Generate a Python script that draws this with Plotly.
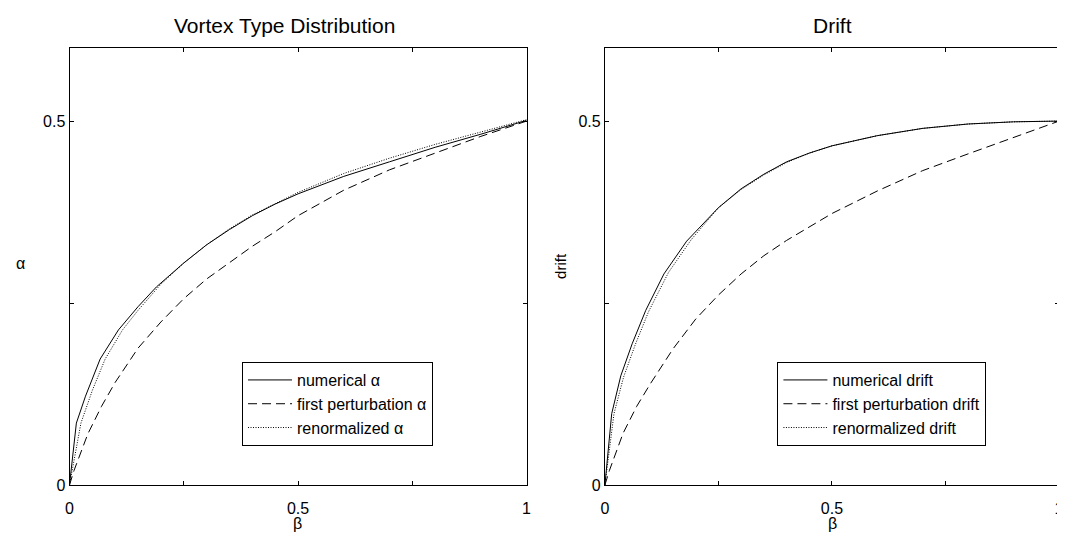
import plotly.graph_objects as go

# ---- Left panel: Vortex Type Distribution ----
beta_num_a = [0, 0.015, 0.035, 0.067, 0.107, 0.15, 0.19, 0.25, 0.3, 0.35, 0.4, 0.45, 0.5, 0.55, 0.6, 0.7, 0.8, 0.9, 1.0]
alpha_num = [0, 0.085, 0.122, 0.173, 0.213, 0.245, 0.272, 0.305, 0.330, 0.351, 0.370, 0.386, 0.400, 0.412, 0.424, 0.444, 0.464, 0.482, 0.501]

beta_pert_a = [0, 0.01, 0.04, 0.07, 0.1, 0.15, 0.2, 0.25, 0.3, 0.35, 0.4, 0.45, 0.5, 0.6, 0.7, 0.8, 0.9, 1.0]
alpha_pert = [0, 0.02, 0.07, 0.108, 0.141, 0.188, 0.224, 0.256, 0.283, 0.306, 0.328, 0.348, 0.370, 0.405, 0.433, 0.456, 0.479, 0.5]

beta_ren_a = [0, 0.025, 0.05, 0.078, 0.116, 0.15, 0.2, 0.25, 0.3, 0.35, 0.4, 0.45, 0.5, 0.6, 0.7, 0.8, 0.9, 1.0]
alpha_ren = [0, 0.085, 0.13, 0.173, 0.213, 0.240, 0.276, 0.305, 0.330, 0.352, 0.371, 0.387, 0.402, 0.428, 0.449, 0.468, 0.485, 0.502]

# ---- Right panel: Drift ----
beta_num_d = [0, 0.015, 0.035, 0.06, 0.09, 0.13, 0.18, 0.25, 0.3, 0.35, 0.4, 0.45, 0.5, 0.6, 0.7, 0.8, 0.9, 1.0]
drift_num = [0, 0.098, 0.150, 0.194, 0.240, 0.290, 0.335, 0.381, 0.407, 0.427, 0.444, 0.456, 0.466, 0.480, 0.490, 0.496, 0.499, 0.5]

beta_pert_d = [0, 0.01, 0.04, 0.07, 0.1, 0.15, 0.2, 0.25, 0.3, 0.35, 0.4, 0.45, 0.5, 0.6, 0.7, 0.8, 0.9, 1.0]
drift_pert = [0, 0.02, 0.071, 0.108, 0.139, 0.187, 0.228, 0.261, 0.290, 0.315, 0.336, 0.355, 0.373, 0.404, 0.432, 0.455, 0.478, 0.5]

beta_ren_d = [0, 0.02, 0.041, 0.067, 0.096, 0.14, 0.19, 0.25, 0.3, 0.35, 0.4, 0.45, 0.5, 0.6, 0.7, 0.8, 0.9, 1.0]
drift_ren = [0, 0.098, 0.148, 0.193, 0.238, 0.292, 0.337, 0.381, 0.406, 0.426, 0.443, 0.456, 0.466, 0.480, 0.490, 0.496, 0.499, 0.5]

tick_vals = [0, 0.25, 0.5, 0.75, 1.0]
tick_text_x = ["0", "", "0.5", "", "1"]
ytick_vals = [0, 0.25, 0.5]
ytick_text = ["0", "", "0.5"]

titles = ["Vortex Type Distribution", "Drift"]
legend_names_a = ["numerical \u03b1", "first perturbation \u03b1", "renormalized \u03b1"]
legend_names_d = ["numerical drift", "first perturbation drift", "renormalized drift"]

OFF = 8  # page body margin
W, H = 1065 - OFF, 542
FONT = "Liberation Sans, Arial, sans-serif"

fig = go.Figure()

styles = [dict(color="black", width=1, dash="solid"),
          dict(color="black", width=1, dash="9px,5px"),
          dict(color="black", width=1, dash="1px,1.5px")]

left = [(beta_num_a, alpha_num), (beta_pert_a, alpha_pert), (beta_ren_a, alpha_ren)]
right = [(beta_num_d, drift_num), (beta_pert_d, drift_pert), (beta_ren_d, drift_ren)]

for (x, y), name, st in zip(left, legend_names_a, styles):
    fig.add_trace(go.Scatter(x=x, y=y, mode="lines", name=name, line=st,
                             xaxis="x", yaxis="y", legend="legend"))
for (x, y), name, st in zip(right, legend_names_d, styles):
    fig.add_trace(go.Scatter(x=x, y=y, mode="lines", name=name, line=st,
                             xaxis="x2", yaxis="y2", legend="legend2"))

def px_x(p):
    return (p - OFF) / W

def px_y(p):
    return 1 - (p - OFF) / H

ydom = [px_y(493), px_y(49)]
axis_common = dict(showgrid=False, zeroline=False, showline=True, linecolor="black", linewidth=1,
                   mirror="ticks", ticks="inside", ticklen=4, tickcolor="black",
                   tickfont=dict(family=FONT, size=16, color="black"))

legend_common = dict(xanchor="left", yanchor="top", bordercolor="black", borderwidth=1,
                     bgcolor="white", font=dict(family=FONT, size=16, color="black"),
                     tracegroupgap=0, itemwidth=44)

fig.update_layout(
    width=W, height=H,
    margin=dict(l=0, r=0, t=0, b=0),
    paper_bgcolor="white", plot_bgcolor="white",
    font=dict(family=FONT, color="black"),
    xaxis=dict(domain=[px_x(66), px_x(527)], range=[0, 1], tickvals=tick_vals, ticktext=tick_text_x,
               anchor="y", ticklabelstandoff=9, **axis_common),
    yaxis=dict(domain=ydom, range=[0, 0.6], tickvals=ytick_vals, ticktext=ytick_text,
               anchor="x", **axis_common),
    xaxis2=dict(domain=[px_x(606), px_x(1064)], range=[0, 1], tickvals=tick_vals, ticktext=tick_text_x,
                anchor="y2", ticklabelstandoff=9, **axis_common),
    yaxis2=dict(domain=ydom, range=[0, 0.6], tickvals=ytick_vals, ticktext=ytick_text,
                anchor="x2", **axis_common),
    legend=dict(x=px_x(240), y=px_y(368), **legend_common),
    legend2=dict(x=px_x(780), y=px_y(368), **legend_common),
    annotations=[
        dict(text=titles[0], x=px_x(283), y=px_y(26), xref="paper", yref="paper", showarrow=False,
             font=dict(family=FONT, size=21, color="black"), xanchor="center", yanchor="middle"),
        dict(text=titles[1], x=px_x(836), y=px_y(26), xref="paper", yref="paper", showarrow=False,
             font=dict(family=FONT, size=21, color="black"), xanchor="center", yanchor="middle"),
        dict(text="\u03b2", x=px_x(296), y=px_y(532), xref="paper", yref="paper", showarrow=False,
             font=dict(family=FONT, size=16, color="black"), xanchor="center", yanchor="middle"),
        dict(text="\u03b2", x=px_x(836), y=px_y(532), xref="paper", yref="paper", showarrow=False,
             font=dict(family=FONT, size=16, color="black"), xanchor="center", yanchor="middle"),
        dict(text="\u03b1", x=px_x(17), y=px_y(268), xref="paper", yref="paper", showarrow=False,
             font=dict(family=FONT, size=16, color="black"), xanchor="center", yanchor="middle"),
        dict(text="drift", x=px_x(561), y=px_y(270), xref="paper", yref="paper", showarrow=False,
             textangle=-90, font=dict(family=FONT, size=15, color="black"),
             xanchor="center", yanchor="middle"),
    ],
)

fig.write_html("out.html")
